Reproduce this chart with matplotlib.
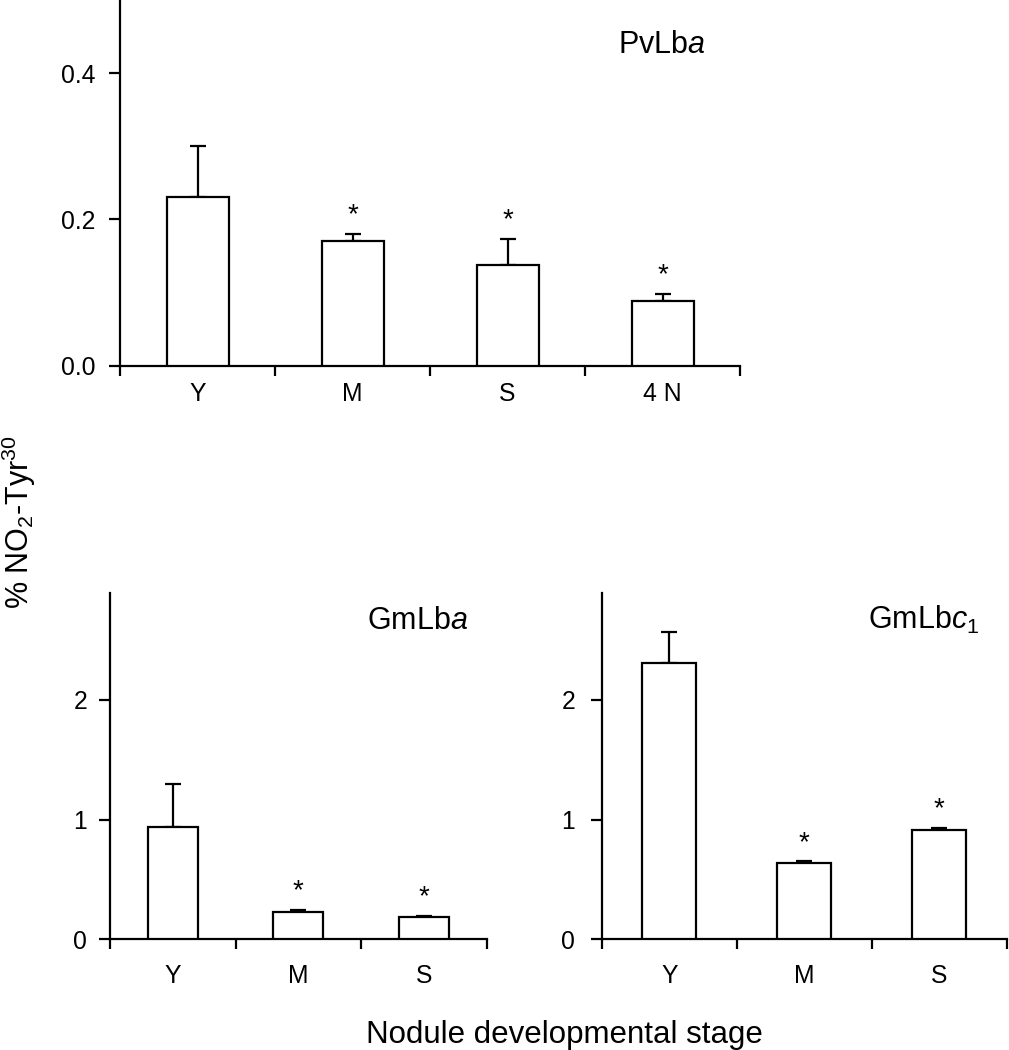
import numpy as np
import matplotlib
matplotlib.use("Agg")
import matplotlib.pyplot as plt

plt.rcParams['font.family'] = ['Liberation Sans', 'DejaVu Sans']
plt.rcParams['mathtext.fontset'] = 'custom'
plt.rcParams['mathtext.rm'] = 'Liberation Sans'
plt.rcParams['mathtext.it'] = 'Liberation Sans:italic'
plt.rcParams['mathtext.default'] = 'rm'

# ---- data ----
pv_categories = ["Y", "M", "S", "4 N"]
pv_values = [0.230, 0.170, 0.137, 0.088]
pv_errors = [0.070, 0.010, 0.036, 0.010]
pv_signif = [False, True, True, True]

gma_categories = ["Y", "M", "S"]
gma_values = [0.94, 0.23, 0.19]
gma_errors = [0.36, 0.015, 0.005]
gma_signif = [False, True, True]

gmc_categories = ["Y", "M", "S"]
gmc_values = [2.31, 0.64, 0.91]
gmc_errors = [0.255, 0.01, 0.02]
gmc_signif = [False, True, True]

W, H = 1009, 1050
fig = plt.figure(figsize=(W / 100, H / 100), dpi=100)

def px_axes(l, t, r, b):
    return fig.add_axes([l / W, 1 - b / H, (r - l) / W, (b - t) / H])

LW = 1.6
FS = 17.8
TFS = 22

def panel(ax, cats, vals, errs, sig, ylim, yticks, yticklabels, ypad, xpad, title, tx, ty):
    n = len(cats)
    x = np.arange(n)
    ax.bar(x, vals, width=0.4, color='white', edgecolor='black', linewidth=LW, zorder=3)
    ax.errorbar(x, vals, yerr=[np.zeros(n), errs], fmt='none', ecolor='black',
                elinewidth=LW, capsize=6, capthick=LW, zorder=2)
    for xi, v, e, s in zip(x, vals, errs, sig):
        if s:
            ax.annotate('*', (xi, v + e), xytext=(0, 4), textcoords='offset points',
                        ha='center', va='bottom', fontsize=20)
    ax.set_xlim(-0.5, n - 0.5)
    ax.set_ylim(*ylim)
    ax.set_xticks(np.arange(n + 1) - 0.5)
    ax.set_xticklabels([''] * (n + 1))
    ax.set_xticks(x, minor=True)
    ax.set_xticklabels(cats, minor=True, fontsize=FS)
    ax.tick_params(axis='x', which='major', direction='out', length=7, width=LW)
    ax.tick_params(axis='x', which='minor', length=0, pad=xpad)
    ax.set_yticks(yticks)
    ax.set_yticklabels(yticklabels, fontsize=FS)
    ax.tick_params(axis='y', direction='out', length=8, width=LW, pad=ypad)
    for s in ['top', 'right']:
        ax.spines[s].set_visible(False)
    for s in ['left', 'bottom']:
        ax.spines[s].set_linewidth(LW)
    ax.text(tx, ty, title, transform=ax.transAxes, fontsize=TFS, ha='left', va='baseline')

ax1 = px_axes(120, 0, 740, 365.7)
panel(ax1, pv_categories, pv_values, pv_errors, pv_signif, (0, 0.5),
      [0.0, 0.2, 0.4], ['0.0', '0.2', '0.4'], 10, 12,
      r'PvLb$\mathit{a}$', 0.804, 0.854)

ax2 = px_axes(110, 593.3, 486.7, 939.3)
panel(ax2, gma_categories, gma_values, gma_errors, gma_signif, (0, 2.89),
      [0, 1, 2], ['0', '1', '2'], 8.5, 18,
      r'GmLb$\mathit{a}$', 0.681, 0.896)

ax3 = px_axes(601.7, 593.3, 1006.7, 939.3)
panel(ax3, gmc_categories, gmc_values, gmc_errors, gmc_signif, (0, 2.89),
      [0, 1, 2], ['0', '1', '2'], 11, 18,
      r'GmLb$\mathit{c}_{\mathit{1}}$', 0.657, 0.896)

fig.text(19 / W, 1 - 522 / H, r'% NO$_2$-Tyr$^{30}$', rotation=90,
         ha='center', va='center', fontsize=TFS)
fig.text(564 / W, 1 - 1043 / H, 'Nodule developmental stage',
         ha='center', va='baseline', fontsize=22.5)

fig.savefig('out.png', dpi=100, facecolor='white')
